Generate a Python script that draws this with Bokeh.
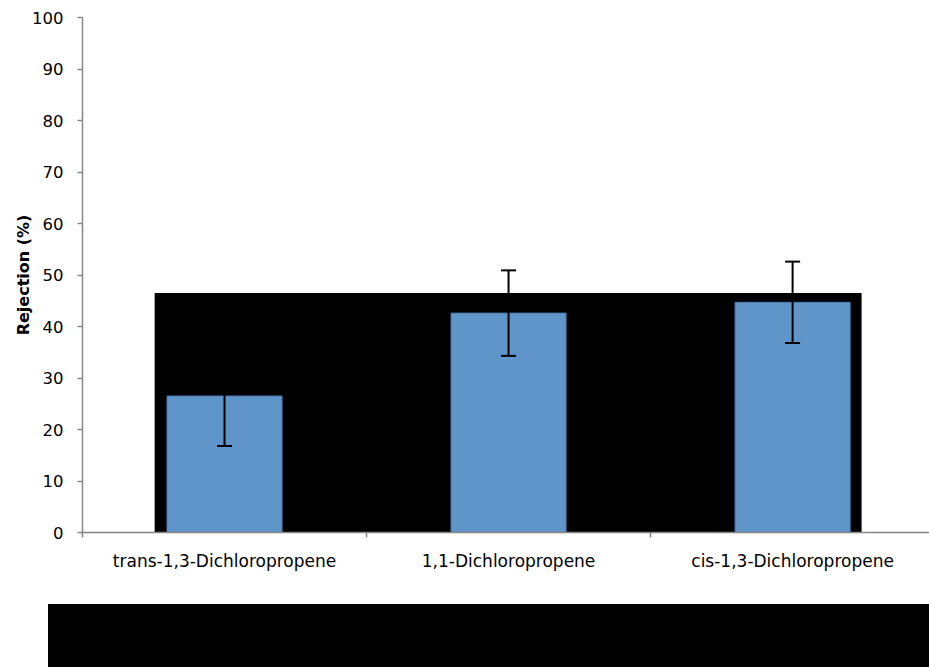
from bokeh.plotting import figure
from bokeh.models import (ColumnDataSource, Range1d, FixedTicker, Whisker, TeeHead,
                          BoxAnnotation, Div)
from bokeh.layouts import column
from bokeh.embed import file_html
from bokeh.resources import INLINE
import numpy as np

# ---- data ----
categories = ["trans-1,3-Dichloropropene", "1,1-Dichloropropene", "cis-1,3-Dichloropropene"]
rejection = [26.5, 42.6, 44.7]
errors = [9.7, 8.3, 7.9]
y_ticks = [0, 10, 20, 30, 40, 50, 60, 70, 80, 90, 100]

# ---- derived ----
xc = np.arange(len(categories)) + 0.5
src = ColumnDataSource(dict(
    x=xc, top=rejection,
    lower=[r - e for r, e in zip(rejection, errors)],
    upper=[r + e for r, e in zip(rejection, errors)],
))

FONT = "DejaVu Sans"

p = figure(width=929, height=604, output_backend="svg", toolbar_location=None,
           x_range=Range1d(0, 2.982), y_range=Range1d(0, 100),
           min_border_left=82, min_border_right=0, min_border_top=17, min_border_bottom=72)
p.outline_line_color = None
p.xgrid.visible = False
p.ygrid.visible = False
p.background_fill_color = "white"

# black masking box behind bars
mask = BoxAnnotation(left=0.254, right=2.743, bottom=0, top=46.5,
                     fill_color="black", fill_alpha=1.0, line_color=None, level="underlay")
p.add_layout(mask)

p.vbar(x="x", top="top", bottom=0, width=0.405, source=src,
       fill_color="#6095C9", line_color="#4a7bb0", line_width=1)

w = Whisker(base="x", lower="lower", upper="upper", source=src, level="overlay",
            line_color="black", line_width=2,
            upper_head=TeeHead(size=15, line_color="black", line_width=2),
            lower_head=TeeHead(size=15, line_color="black", line_width=2))
p.add_layout(w)

# x axis
xa = p.xaxis[0]
xa.ticker = FixedTicker(ticks=list(xc), minor_ticks=[0, 1, 2, 3])
xa.major_label_overrides = {float(x): c for x, c in zip(xc, categories)}
xa.major_tick_out = 0
xa.major_tick_in = 0
xa.minor_tick_out = 5
xa.minor_tick_in = 0
xa.minor_tick_line_color = "#878787"
xa.minor_tick_line_width = 1.5
xa.axis_line_color = "#878787"
xa.axis_line_width = 1.5
xa.major_label_standoff = 13
xa.major_label_text_font = FONT
xa.major_label_text_font_size = "17px"
xa.major_label_text_color = "black"

# y axis
ya = p.yaxis[0]
ya.ticker = FixedTicker(ticks=y_ticks)
ya.minor_tick_line_color = None
ya.major_tick_out = 5
ya.major_tick_in = 0
ya.major_tick_line_color = "#878787"
ya.major_tick_line_width = 1.5
ya.axis_line_color = "#878787"
ya.axis_line_width = 1.5
ya.major_label_standoff = 14
ya.major_label_text_font = FONT
ya.major_label_text_font_size = "16.5px"
ya.major_label_text_color = "black"
ya.axis_label = "Rejection (%)"
ya.axis_label_text_font = FONT
ya.axis_label_text_font_size = "16px"
ya.axis_label_text_font_style = "bold"
ya.axis_label_text_color = "black"
ya.axis_label_standoff = -4

box = Div(text="", width=881, height=63, margin=(0, 0, 0, 48),
          styles={"background-color": "black"})

layout = column(p, box, spacing=0)

open("out.html", "w").write(file_html(layout, INLINE))
